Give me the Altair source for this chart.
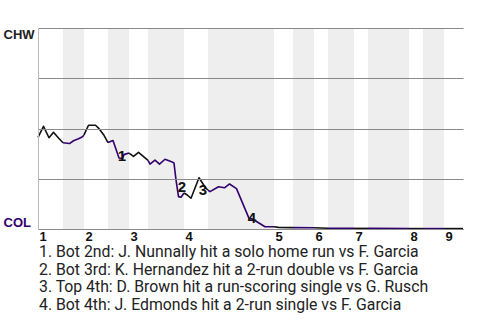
import altair as alt
import pandas as pd

# half-inning boundaries (game-progress units); even index = top half starts
half_bounds = [0, 5, 9.2, 14, 18.2, 22, 29.2, 34, 47.2, 51, 55.2, 58, 63.2, 66, 74.2, 77, 81.2, 85]
inning_labels = ["1", "2", "3", "4", "5", "6", "7", "8", "9"]
teams = ["CHW", "COL"]
team_colors = ["#111111", "#33006F"]

# CHW win probability over the game
play_x = [0, 1.1, 2.2, 3.1, 4.1, 5.0,
          6.3, 7.1, 8.1, 8.9, 9.2,
          10.1, 11.5, 12.1, 13.2, 14.0,
          15.0, 16.2, 16.9, 17.2, 18.2,
          19.1, 20.1, 22.0,
          22.4, 23.4, 24.3, 25.4, 26.7, 27.2, 27.6, 28.1, 28.6, 29.2,
          29.7, 30.6, 32.2, 33.5, 34.0,
          34.4, 36.1, 37.3, 38.3, 39.7, 42.2, 42.9, 45.4, 47.2,
          48.1, 51.0, 55.2, 58.0, 63.2, 66.0, 74.2, 77.0, 81.2, 85.0]
play_p = [0.456, 0.511, 0.454, 0.481, 0.453, 0.429,
          0.425, 0.439, 0.449, 0.459, 0.468,
          0.516, 0.516, 0.502, 0.466, 0.430,
          0.440, 0.353, 0.351, 0.370, 0.378,
          0.361, 0.381, 0.341,
          0.323, 0.343, 0.323, 0.347, 0.335, 0.328, 0.244, 0.161, 0.158, 0.179,
          0.172, 0.153, 0.255, 0.205, 0.194,
          0.186, 0.210, 0.205, 0.224, 0.201, 0.053, 0.050, 0.011, 0.011,
          0.008, 0.007, 0.006, 0.004, 0.003, 0.003, 0.002, 0.002, 0.002, 0.002]

ann_x = [16.8, 28.8, 33.0, 42.8]
ann_p = [0.363, 0.209, 0.194, 0.055]
ann_text = ["1", "2", "3", "4"]

notes = [
    "1. Bot 2nd: J. Nunnally hit a solo home run vs F. Garcia",
    "2. Bot 3rd: K. Hernandez hit a 2-run double vs F. Garcia",
    "3. Top 4th: D. Brown hit a run-scoring single vs G. Rusch",
    "4. Bot 4th: J. Edmonds hit a 2-run single vs F. Garcia",
]

# build tables
rows = []
for i in range(len(half_bounds) - 1):
    lo, hi = half_bounds[i], half_bounds[i + 1]
    for x, p in zip(play_x, play_p):
        if lo <= x <= hi:
            rows.append({"x": x, "p": p, "seg": i, "team": teams[i % 2]})
line_df = pd.DataFrame(rows)

band_df = pd.DataFrame({
    "start": half_bounds[1:-1:2],
    "end": half_bounds[2::2],
})
inning_starts = half_bounds[0:-1:2]
ann_df = pd.DataFrame({"x": ann_x, "p": ann_p, "t": ann_text})

label_expr = " : ".join(
    f"datum.value == {v} ? '{l}'" for v, l in zip(inning_starts, inning_labels)
) + " : ''"

xscale = alt.Scale(domain=[half_bounds[0], half_bounds[-1]], nice=False, zero=False)
yscale = alt.Scale(domain=[0, 1], nice=False)

x_axis = alt.Axis(
    values=inning_starts, labelExpr=label_expr, title=None, grid=False, ticks=False,
    labelAlign="left", labelOffset=1, labelPadding=1, labelFontSize=13,
    labelFontWeight="bold", labelFont="Liberation Sans", labelColor="#111",
    domainColor="#999", labelBaseline="top",
)
y_axis = alt.Axis(
    values=[0, 0.25, 0.5, 0.75, 1], title=None, ticks=False, grid=True,
    gridColor="#8a8a8a", gridWidth=1, domainColor="#bbbbbb",
    labelExpr="datum.value == 1 ? 'CHW' : datum.value == 0 ? 'COL' : ''",
    labelColor=alt.condition("datum.value == 0", alt.value("#33006F"), alt.value("#222222")),
    labelBaseline=alt.condition("datum.value == 0", alt.value("bottom"), alt.value("top")),
    labelAlign="left", labelFontSize=13, labelFontWeight="bold", labelFont="Liberation Sans",
    labelPadding=35, zindex=1,
)

bands = alt.Chart(band_df).mark_rect(color="#eeeeee").encode(
    x=alt.X("start:Q", scale=xscale, axis=x_axis),
    x2="end:Q",
)

line = alt.Chart(line_df).mark_line(strokeWidth=1.6, strokeJoin="round").encode(
    x=alt.X("x:Q", scale=xscale, axis=x_axis),
    y=alt.Y("p:Q", scale=yscale, axis=y_axis),
    color=alt.Color("team:N", scale=alt.Scale(domain=teams, range=team_colors), legend=None),
    detail="seg:N",
    order="x:Q",
)

ann = alt.Chart(ann_df).mark_text(
    fontSize=15, fontWeight="bold", font="Liberation Sans", color="#111",
    align="center", baseline="middle",
).encode(
    x=alt.X("x:Q", scale=xscale),
    y=alt.Y("p:Q", scale=yscale),
    text="t:N",
)

chart = alt.layer(bands, line, ann).properties(
    width=425, height=201,
    padding={"left": 38, "top": 28, "right": 17, "bottom": 91},
    autosize=alt.AutoSizeParams(type="none"),
    title=alt.TitleParams(
        text=notes, orient="bottom", anchor="start", frame="group", fontSize=15.8,
        font="Roboto", fontWeight="normal", color="#222", lineHeight=17.5,
        offset=2, dx=1,
    ),
).configure_view(stroke=None)

chart.save("out.html", embed_options={"renderer": "svg", "actions": False})
